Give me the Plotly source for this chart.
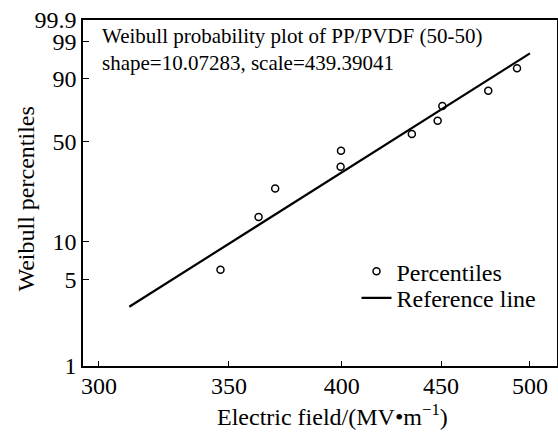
import numpy as np
import plotly.graph_objects as go

# Data
field = [346.5, 362.5, 369.7, 399.5, 399.7, 434.7, 448.2, 450.7, 475.9, 492.4]
percentiles = [6.0, 15.4, 24.9, 35.1, 44.3, 55.2, 64.4, 74.4, 83.8, 93.8]

shape = 10.07283
scale = 439.39041
line_field = [311.0, 500.0]

y_tick_pcts = [1, 5, 10, 50, 90, 99, 99.9]
y_tick_text = ["1", "5", "10", "50", "90", "99", "99.9"]
x_tick_vals = [300, 350, 400, 450, 500]

x_title = "Electric field/(MV\u2022m<sup>\u22121</sup>)"
y_title = "Weibull percentiles"


def wz(p_percent):
    p = np.asarray(p_percent, dtype=float) / 100.0
    return np.log(-np.log(1.0 - p))


line_z = shape * np.log(np.asarray(line_field) / scale)

FONT = "Liberation Serif"

fig = go.Figure()
fig.add_trace(go.Scatter(
    x=field, y=wz(percentiles), mode="markers", name="Percentiles", legend="legend",
    marker=dict(symbol="circle-open", size=7, color="black", line=dict(width=1.5, color="black")),
))
fig.add_trace(go.Scatter(
    x=line_field, y=line_z, mode="lines", name="Reference line", legend="legend2",
    line=dict(color="black", width=2.2),
))

fig.add_annotation(
    x=0.035, y=0.995, xref="paper", yref="paper", xanchor="left", yanchor="top",
    align="left", showarrow=False,
    text="Weibull probability plot of PP/PVDF (50-50)<br>shape=10.07283, scale=439.39041",
    font=dict(family=FONT, size=21, color="black"),
)
# axis titles (placed as annotations for exact positioning)
fig.add_annotation(
    x=0.527, y=-0.1416, xref="paper", yref="paper", xanchor="center", yanchor="middle",
    showarrow=False, text=x_title, font=dict(family=FONT, size=24, color="black"),
)
fig.add_annotation(
    x=-0.1203, y=0.484, xref="paper", yref="paper", xanchor="center", yanchor="middle",
    showarrow=False, text=y_title, textangle=-90, font=dict(family=FONT, size=24, color="black"),
)

leg_common = dict(xanchor="left", yanchor="middle", bgcolor="rgba(0,0,0,0)",
                  font=dict(family=FONT, size=24, color="black"), itemwidth=30)

fig.update_layout(
    template="none",
    width=558, height=432,
    margin=dict(l=83, r=1, t=20, b=66, pad=0),
    plot_bgcolor="white", paper_bgcolor="white",
    font=dict(family=FONT, size=24, color="black"),
    showlegend=True,
    legend=dict(x=0.577, y=0.273, **leg_common),
    legend2=dict(x=0.577, y=0.196, **leg_common),
    xaxis=dict(
        type="log", range=[np.log10(294.4), np.log10(516.3)],
        tickvals=x_tick_vals, ticktext=[str(v) for v in x_tick_vals],
        ticks="inside", ticklen=5, tickwidth=1.2, tickcolor="black",
        showline=True, linecolor="black", linewidth=1.5, mirror=True,
        showgrid=False, zeroline=False, automargin=False,
        ticklabelstandoff=-3,
        tickfont=dict(family=FONT, size=24),
    ),
    yaxis=dict(
        range=[float(wz(1)), float(wz(99.9))],
        tickvals=list(wz(y_tick_pcts)), ticktext=y_tick_text,
        ticks="inside", ticklen=6, tickwidth=1.2, tickcolor="black",
        showline=True, linecolor="black", linewidth=1.5, mirror=True,
        showgrid=False, zeroline=False, automargin=False,
        tickfont=dict(family=FONT, size=24),
    ),
)

fig.write_html("out.html", config={"displayModeBar": False},
               post_script="document.body.style.margin='0';document.body.style.overflow='hidden';")
